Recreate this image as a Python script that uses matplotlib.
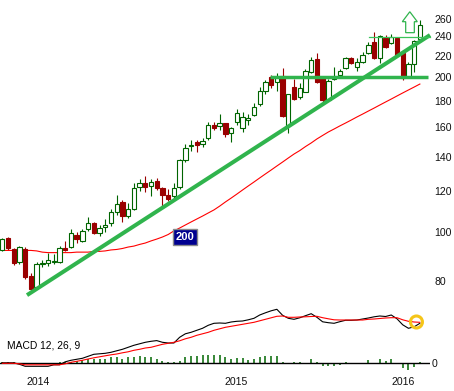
import matplotlib.pyplot as plt
from matplotlib.patches import Rectangle, Polygon
from matplotlib.ticker import NullLocator

plt.rcParams['font.family'] = ['Liberation Sans', 'DejaVu Sans']

# weekly-ish candles
opens = [92.0, 97.1, 92.5, 87.2, 92.5, 81.9, 78.0, 86.4, 86.8, 87.2,
         87.2, 92.9, 93.3, 98.5, 95.9, 101.2, 103.9, 99.4, 102.1, 103.9,
         109.2, 114.2, 107.2, 110.6, 122.1, 124.3, 122.7, 125.4, 121.6, 117.8,
         117.3, 122.1, 137.8, 146.8, 149.4, 148.1, 152.1, 161.3, 160.5, 162.7,
         155.6, 163.5, 159.1, 164.9, 168.7, 177.2, 187.8, 200.0, 195.6, 200.9,
         160.5, 191.2, 182.8, 187.0, 204.5, 216.8, 199.1, 180.4, 198.2, 201.8,
         208.2, 217.8, 209.2, 213.9, 222.7, 234.0, 217.8, 238.2, 232.9, 238.2,
         222.7, 200.0, 212.0, 237.2]
highs = [97.1, 97.5, 93.0, 93.7, 93.3, 83.0, 87.2, 88.0, 90.8, 90.4,
         93.7, 95.9, 101.2, 99.8, 101.2, 106.8, 104.4, 103.0, 105.8, 110.6,
         117.8, 115.2, 113.7, 124.3, 126.6, 128.3, 126.6, 127.2, 122.1, 121.1,
         124.3, 138.5, 148.1, 150.8, 150.8, 152.1, 163.5, 163.5, 169.4, 163.0,
         160.0, 173.3, 170.8, 169.4, 177.9, 191.2, 197.3, 201.8, 203.6, 208.2,
         185.3, 198.2, 194.6, 207.3, 218.8, 222.7, 200.0, 198.2, 209.2, 207.3,
         218.8, 218.8, 217.8, 223.7, 234.0, 244.7, 241.4, 241.4, 242.5, 239.3,
         223.7, 213.9, 236.0, 258.2]
lows = [91.6, 92.0, 86.1, 86.4, 80.8, 76.9, 77.6, 85.3, 85.7, 86.4,
        87.0, 91.6, 92.9, 95.0, 95.5, 100.3, 98.9, 98.0, 99.8, 102.6,
        107.7, 104.4, 106.3, 110.1, 120.0, 119.5, 117.3, 120.5, 111.6, 114.7,
        116.2, 121.1, 136.6, 143.5, 142.9, 146.1, 150.8, 157.7, 157.7, 152.8,
        149.4, 161.3, 156.3, 161.3, 167.9, 175.6, 185.0, 190.4, 187.8, 167.5,
        155.6, 180.4, 181.2, 187.0, 203.6, 195.0, 178.8, 180.0, 197.3, 200.0,
        207.3, 212.0, 205.5, 213.0, 221.7, 216.8, 213.0, 227.8, 231.9, 219.7,
        197.3, 199.1, 204.5, 236.0]
closes = [96.7, 92.9, 86.8, 93.3, 81.6, 77.3, 86.4, 86.8, 88.0, 87.6,
          92.9, 92.0, 99.4, 96.7, 100.3, 103.9, 99.4, 101.6, 103.0, 109.2,
          113.2, 107.2, 110.6, 121.6, 124.3, 122.1, 124.9, 121.6, 117.8, 115.7,
          121.6, 137.8, 145.5, 147.5, 147.5, 150.1, 161.3, 159.1, 162.7, 154.9,
          159.1, 170.2, 167.2, 166.4, 174.8, 187.8, 195.6, 192.9, 200.0, 167.9,
          185.3, 181.2, 190.4, 205.5, 215.8, 195.6, 180.4, 196.4, 200.0, 205.5,
          217.8, 213.0, 213.9, 220.7, 230.9, 217.8, 240.4, 228.8, 239.3, 220.7,
          199.1, 212.0, 235.0, 252.5]
ma200 = [91.9, 91.9, 91.9, 91.9, 91.9, 91.9, 91.7, 91.2, 91.0, 91.0,
         91.0, 91.0, 91.0, 91.2, 91.2, 91.2, 91.5, 91.5, 91.7, 92.1,
         92.3, 92.7, 93.3, 93.7, 94.4, 95.0, 95.9, 96.7, 97.6, 98.7,
         100.3, 101.6, 103.0, 104.4, 105.8, 107.2, 108.7, 110.2, 112.1, 114.2,
         116.2, 118.3, 120.5, 122.7, 124.9, 127.2, 129.5, 131.8, 134.2, 136.6,
         139.1, 141.6, 143.8, 146.4, 148.8, 151.5, 153.9, 156.3, 158.4, 160.6,
         162.7, 164.9, 167.2, 169.4, 171.7, 174.0, 176.4, 178.8, 181.2, 183.7,
         186.2, 188.7, 191.2, 193.8]

macd = [0.5, 0.5, 0.5, -1, -3, -3, -3, -3, -3, -1.5,
        -1.5, 1.5, 3, 4, 5, 7, 9, 9.5, 10, 11,
        12.5, 14, 16, 18, 19.5, 21, 22, 22.7, 21, 20.3,
        20.3, 26, 29.5, 31, 33, 35, 38, 40, 40.3, 40,
        41.3, 42, 42.3, 43.5, 45, 48.3, 50.5, 52.5, 54, 48,
        45, 44, 45.5, 47.6, 49.6, 46, 41.5, 40.6, 40, 41.6,
        43, 43, 43.3, 44.3, 45.3, 46.5, 47.3, 46.8, 48.3, 44.5,
        38.5, 35, 36.5, 40]
signal = [0, 0, 0, -0.5, -1.5, -1.5, -1.5, -1.5, -1.5, -1.5,
          -1.5, -0.5, 1, 2, 3, 4.3, 5.5, 6.5, 7.5, 8.5,
          9.3, 10.5, 11.5, 13, 14, 15.3, 16, 17.5, 19, 20,
          21, 22.5, 24.5, 26, 28, 29.5, 31, 33, 34.5, 36,
          37, 38, 39, 40, 41, 42.5, 44, 45.5, 47, 47.3,
          46, 46, 46.3, 46.5, 46.8, 47, 45.6, 44.5, 43.5, 43.3,
          43.3, 43.3, 43.3, 43.3, 44, 44.3, 44.8, 45.3, 45.6, 45.6,
          43.5, 42, 41.3, 41]
hist = [1, 1, 1, 0.5, -0.5, -1, -1, -1, -0.5, 0.5,
        1, 1, 1.5, 2.7, 3.3, 4, 4, 4.3, 4.3, 6,
        6, 4.3, 6, 6.7, 7, 6.7, 6, 4.3, 2.7, 1,
        1, 2.7, 6, 7.7, 7.7, 8.3, 8.7, 8.7, 8.7, 6,
        4.3, 5, 5, 3.7, 4.3, 6, 7.7, 7.7, 7.7, 1,
        0, 1, 1, 0, 4, 1.5, -2.3, -2.3, -2.3, -1.7,
        1, 0, 0, 0, 3.3, 0, 4.3, 2.7, 4.3, 0.7,
        -4.3, -6.3, -3.3, 1]

price_ticks = [80, 100, 120, 140, 160, 180, 200, 220, 240, 260]
year_labels = ['2014', '2015', '2016']
year_pos = [7.2, 41.9, 71.1]

idx = list(range(1, len(closes) + 1))

W, H = 454, 391
fig = plt.figure(figsize=(W / 100, H / 100), dpi=100)
ax = fig.add_axes([0, 91 / H, 430 / W, 300 / H])
ax2 = fig.add_axes([0, 16 / H, 430 / W, 75 / H])

up_col = '#006400'
dn_col = '#9a0000'
trend_col = '#30b44d'

for x, o, h, l, c in zip(idx, opens, highs, lows, closes):
    col = up_col if c >= o else dn_col
    ax.vlines(x, l, h, color=col, lw=0.8, zorder=2)
    ax.add_patch(Rectangle((x - 0.38, min(o, c)), 0.76, abs(c - o),
                           facecolor='white' if c >= o else dn_col,
                           edgecolor=col, lw=0.8, zorder=3))

ax.plot(idx, ma200, color='red', lw=0.8, zorder=2)

# drawn-on trend lines
ax.plot([5.32, 75.77], [75.2, 241.4], color=trend_col, lw=2.9,
        solid_capstyle='butt', zorder=4, clip_on=False)
ax.plot([47.8, 75.4], [200, 200], color=trend_col, lw=2.5,
        solid_capstyle='butt', zorder=4, clip_on=False)
ax.plot([65.1, 75.8], [238.8, 238.8], color='#3cc45a', lw=0.9, zorder=4,
        clip_on=False)
ax.add_patch(Polygon([(70.93, 256.3), (72.24, 268.0), (73.55, 256.3),
                      (73.03, 256.3), (73.03, 244.0), (71.52, 244.0),
                      (71.52, 256.3)], closed=True, facecolor='white',
                     edgecolor=trend_col, lw=0.9, zorder=4))

ax.text(32.94, 97.6, '200', color='white', fontweight='bold', fontsize=8,
        ha='center', va='center', zorder=5,
        bbox=dict(boxstyle='square,pad=0.25', fc='#000090', ec='#8a8a8a', lw=1))

ax.set_yscale('log')
ax.set_ylim(73.58, 282.5)
ax.set_xlim(0.598, 75.77)
ax.yaxis.tick_right()
ax.set_yticks(price_ticks)
ax.set_yticklabels([str(t) for t in price_ticks])
ax.yaxis.set_minor_locator(NullLocator())
ax.set_xticks([])
ax.tick_params(axis='y', length=0, pad=2.9, labelsize=7.6, colors='#111111')

# MACD panel
ax2.bar(idx, hist, width=0.35, color='#3c8a3c', zorder=2)
ax2.axhline(0, color='black', lw=1, zorder=3)
ax2.plot(idx, macd, color='black', lw=0.8, zorder=4)
ax2.plot(idx, signal, color='red', lw=0.8, zorder=4)
ax2.scatter([73.4], [41.3], s=75, facecolors='none', edgecolors='#f5c518',
            linewidths=2.2, zorder=6, clip_on=False)
ax2.set_xlim(0.598, 75.77)
ax2.set_ylim(-11.7, 63.3)
ax2.yaxis.tick_right()
ax2.set_yticks([0])
ax2.set_yticklabels(['0'])
ax2.set_xticks(year_pos)
ax2.set_xticklabels(year_labels)
ax2.tick_params(length=0, labelsize=7.6, colors='#111111')
ax2.tick_params(axis='y', pad=1)
ax2.tick_params(axis='x', pad=1.4)
fig.text(7 / W, 1 - 345 / H, 'MACD 12, 26, 9', fontsize=7.4, va='center')

for a in (ax, ax2):
    for s in a.spines.values():
        s.set_visible(False)
    a.patch.set_alpha(0)

fig.savefig('out.png', dpi=100)
